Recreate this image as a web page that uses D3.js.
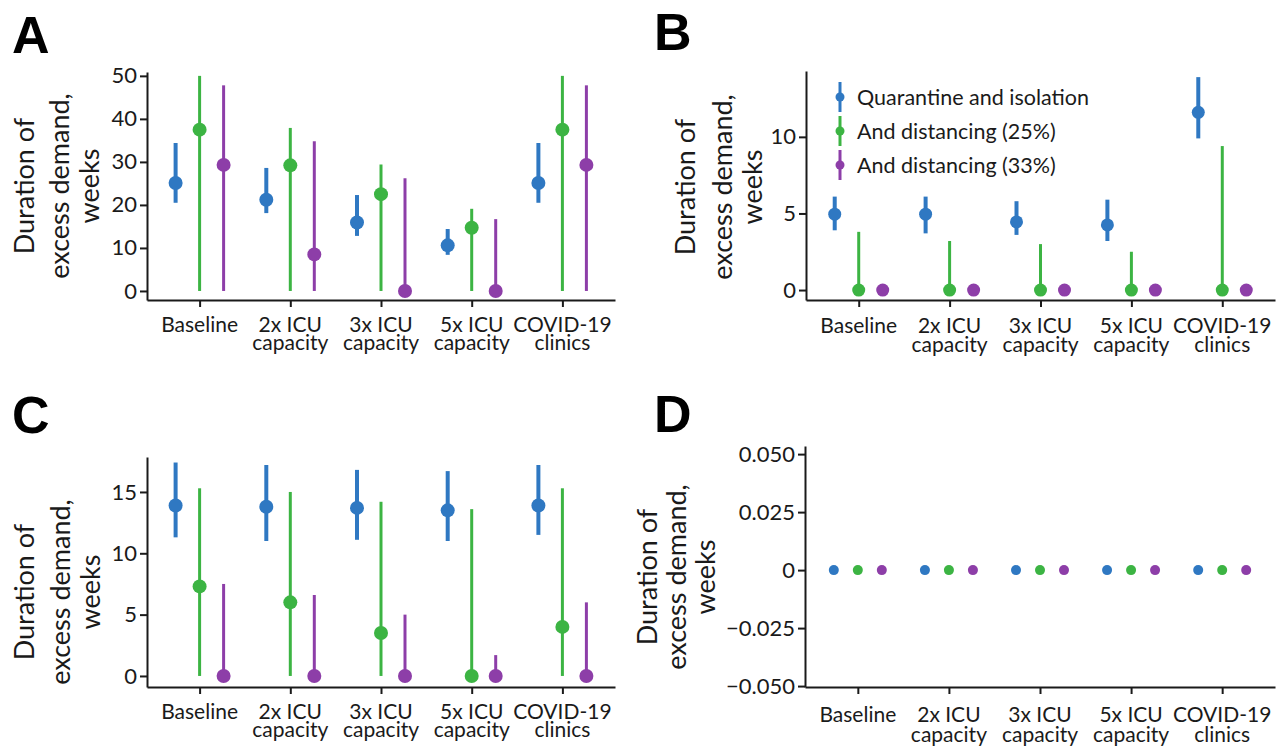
<!DOCTYPE html>
<html>
<head>
<meta charset="utf-8">
<script src="https://cdn.jsdelivr.net/npm/d3@7"></script>
<style>
  body { margin: 0; background: #fff; }
  svg { display: block; font-family: Lato, 'Open Sans', sans-serif; }
</style>
</head>
<body>
<div id="chart"></div>
<script>
// Duration of excess demand, 4 panels (A-D)
const categoryLabels = [
  ['Baseline'],
  ['2x ICU', 'capacity'],
  ['3x ICU', 'capacity'],
  ['5x ICU', 'capacity'],
  ['COVID-19', 'clinics']
];
const seriesNames = ['Quarantine and isolation', 'And distancing (25%)', 'And distancing (33%)'];

// each entry: [point, low, high]
const aQuarantine = [[25.1, 20.5, 34.4], [21.2, 18.1, 28.6], [15.9, 12.8, 22.3], [10.6, 8.4, 14.4], [25.1, 20.5, 34.4]];
const aDist25 = [[37.5, 0, 50], [29.2, 0, 37.9], [22.5, 0, 29.4], [14.7, 0, 19.1], [37.5, 0, 50]];
const aDist33 = [[29.3, 0, 47.8], [8.5, 0, 34.8], [0, 0, 26.2], [0, 0, 16.7], [29.3, 0, 47.8]];

const bQuarantine = [[4.95, 3.9, 6.1], [4.95, 3.7, 6.1], [4.45, 3.6, 5.8], [4.25, 3.2, 5.9], [11.6, 9.9, 13.9]];
const bDist25 = [[0, 0, 3.8], [0, 0, 3.2], [0, 0, 3.0], [0, 0, 2.5], [0, 0, 9.4]];
const bDist33 = [[0, 0, 0], [0, 0, 0], [0, 0, 0], [0, 0, 0], [0, 0, 0]];

const cQuarantine = [[13.9, 11.3, 17.4], [13.8, 11.0, 17.2], [13.7, 11.1, 16.8], [13.5, 11.0, 16.7], [13.9, 11.5, 17.2]];
const cDist25 = [[7.3, 0, 15.3], [6.0, 0, 15.0], [3.5, 0, 14.2], [0, 0, 13.6], [4.0, 0, 15.3]];
const cDist33 = [[0, 0, 7.5], [0, 0, 6.6], [0, 0, 5.0], [0, 0, 1.7], [0, 0, 6.0]];

const dQuarantine = [[0, 0, 0], [0, 0, 0], [0, 0, 0], [0, 0, 0], [0, 0, 0]];
const dDist25 = [[0, 0, 0], [0, 0, 0], [0, 0, 0], [0, 0, 0], [0, 0, 0]];
const dDist33 = [[0, 0, 0], [0, 0, 0], [0, 0, 0], [0, 0, 0], [0, 0, 0]];

const aTicks = [0, 10, 20, 30, 40, 50];
const bTicks = [0, 5, 10];
const cTicks = [0, 5, 10, 15];
const dTicks = [-0.05, -0.025, 0, 0.025, 0.05];

const colors = ['#2f78c2', '#3cb443', '#8d3ea8'];
const barWidths = [4, 3, 3];
const ink = '#1a1a1a';
const font = "Lato, 'Open Sans', sans-serif";

const W = 1285, H = 746;
const svg = d3.select('#chart').append('svg').attr('width', W).attr('height', H);

const panels = [
  { letter: 'A', lx: 12, ly: 53, left: 147, right: 615, top: 72, bottom: 300, dom: [-2.1, 50.9],
    ticks: aTicks, fmt: d3.format('d'), series: [aQuarantine, aDist25, aDist33], r: 7,
    labX: [23, 58, 88], labY: 186, cat1: 32, cat2: 50 },
  { letter: 'B', lx: 654, ly: 50, left: 806, right: 1275, top: 71, bottom: 300, dom: [-0.65, 14.3],
    ticks: bTicks, fmt: d3.format('d'), series: [bQuarantine, bDist25, bDist33], r: 6.5,
    labX: [684, 721, 751], labY: 187, cat1: 33, cat2: 52, legend: true },
  { letter: 'C', lx: 12, ly: 433, left: 147, right: 615, top: 457, bottom: 687, dom: [-0.9, 17.85],
    ticks: cTicks, fmt: d3.format('d'), series: [cQuarantine, cDist25, cDist33], r: 7,
    labX: [23, 59, 89], labY: 592, cat1: 32, cat2: 50 },
  { letter: 'D', lx: 654, ly: 432, left: 805, right: 1275, top: 446, bottom: 687, dom: [-0.0504, 0.0535],
    ticks: dTicks, fmt: (v) => (v === 0 ? '0' : d3.format('.3f')(v).replace('-', '\u2212')),
    series: [dQuarantine, dDist25, dDist33], r: 5,
    labX: [646, 675, 704], labY: 577, cat1: 35, cat2: 55 }
];

panels.forEach((p) => {
  const g = svg.append('g');

  const x = d3.scalePoint()
    .domain(d3.range(categoryLabels.length))
    .range([p.left, p.right])
    .padding(0.58);

  const xs = d3.scalePoint()
    .domain(d3.range(seriesNames.length))
    .range([-24, 24]);

  const y = d3.scaleLinear()
    .domain(p.dom)
    .range([p.bottom, p.top]);

  // panel letter
  g.append('text')
    .attr('x', p.lx)
    .attr('y', p.ly)
    .attr('font-family', "'Liberation Sans', Arial, sans-serif")
    .attr('font-weight', 700)
    .attr('font-size', 52)
    .attr('fill', '#000')
    .text(p.letter);

  // y axis
  const ya = g.append('g')
    .attr('transform', `translate(${p.left},0)`)
    .call(d3.axisLeft(y).tickValues(p.ticks).tickFormat(p.fmt).tickSize(7).tickSizeOuter(0).tickPadding(3));
  ya.attr('font-family', font).attr('font-size', 22);
  ya.selectAll('path, line').attr('stroke', ink).attr('stroke-width', 2);
  ya.selectAll('text').attr('fill', ink);

  // x axis
  const xa = g.append('g')
    .attr('transform', `translate(0,${p.bottom})`)
    .call(d3.axisBottom(x).tickSize(7).tickSizeOuter(0).tickFormat(''));
  xa.selectAll('path, line').attr('stroke', ink).attr('stroke-width', 2);

  // category labels, two lines in one text
  categoryLabels.forEach((lines, i) => {
    const t = g.append('text')
      .attr('text-anchor', 'middle')
      .attr('font-family', font)
      .attr('font-size', 21)
      .attr('fill', ink);
    lines.forEach((s, k) => {
      t.append('tspan')
        .attr('x', x(i))
        .attr('y', p.bottom + (k === 0 ? p.cat1 : p.cat2))
        .text(s);
    });
  });

  // y label
  const yl = ['Duration of', 'excess demand,', 'weeks'];
  yl.forEach((s, k) => {
    g.append('text')
      .attr('transform', `translate(${p.labX[k]},${p.labY}) rotate(-90)`)
      .attr('text-anchor', 'middle')
      .attr('dominant-baseline', 'central')
      .attr('font-family', font)
      .attr('font-size', 27)
      .attr('fill', ink)
      .text(s);
  });

  // error bars and points
  p.series.forEach((vals, si) => {
    vals.forEach((v, ci) => {
      const cx = x(ci) + xs(si);
      if (v[2] > v[1]) {
        g.append('line')
          .attr('x1', cx).attr('x2', cx)
          .attr('y1', y(v[1])).attr('y2', y(v[2]))
          .attr('stroke', colors[si])
          .attr('stroke-width', barWidths[si]);
      }
      g.append('circle')
        .attr('cx', cx)
        .attr('cy', y(v[0]))
        .attr('r', p.r)
        .attr('fill', colors[si]);
    });
  });

  // legend
  if (p.legend) {
    const lg = g.append('g');
    seriesNames.forEach((s, i) => {
      const ly = 97 + i * 34;
      lg.append('line')
        .attr('x1', 840).attr('x2', 840)
        .attr('y1', ly - 15).attr('y2', ly + 15)
        .attr('stroke', colors[i])
        .attr('stroke-width', 3);
      lg.append('circle')
        .attr('cx', 840).attr('cy', ly).attr('r', 4.5)
        .attr('fill', colors[i]);
      lg.append('text')
        .attr('x', 857)
        .attr('y', ly)
        .attr('dominant-baseline', 'central')
        .attr('font-family', font)
        .attr('font-size', 21.5)
        .attr('fill', ink)
        .text(s);
    });
  }
});
</script>
</body>
</html>
